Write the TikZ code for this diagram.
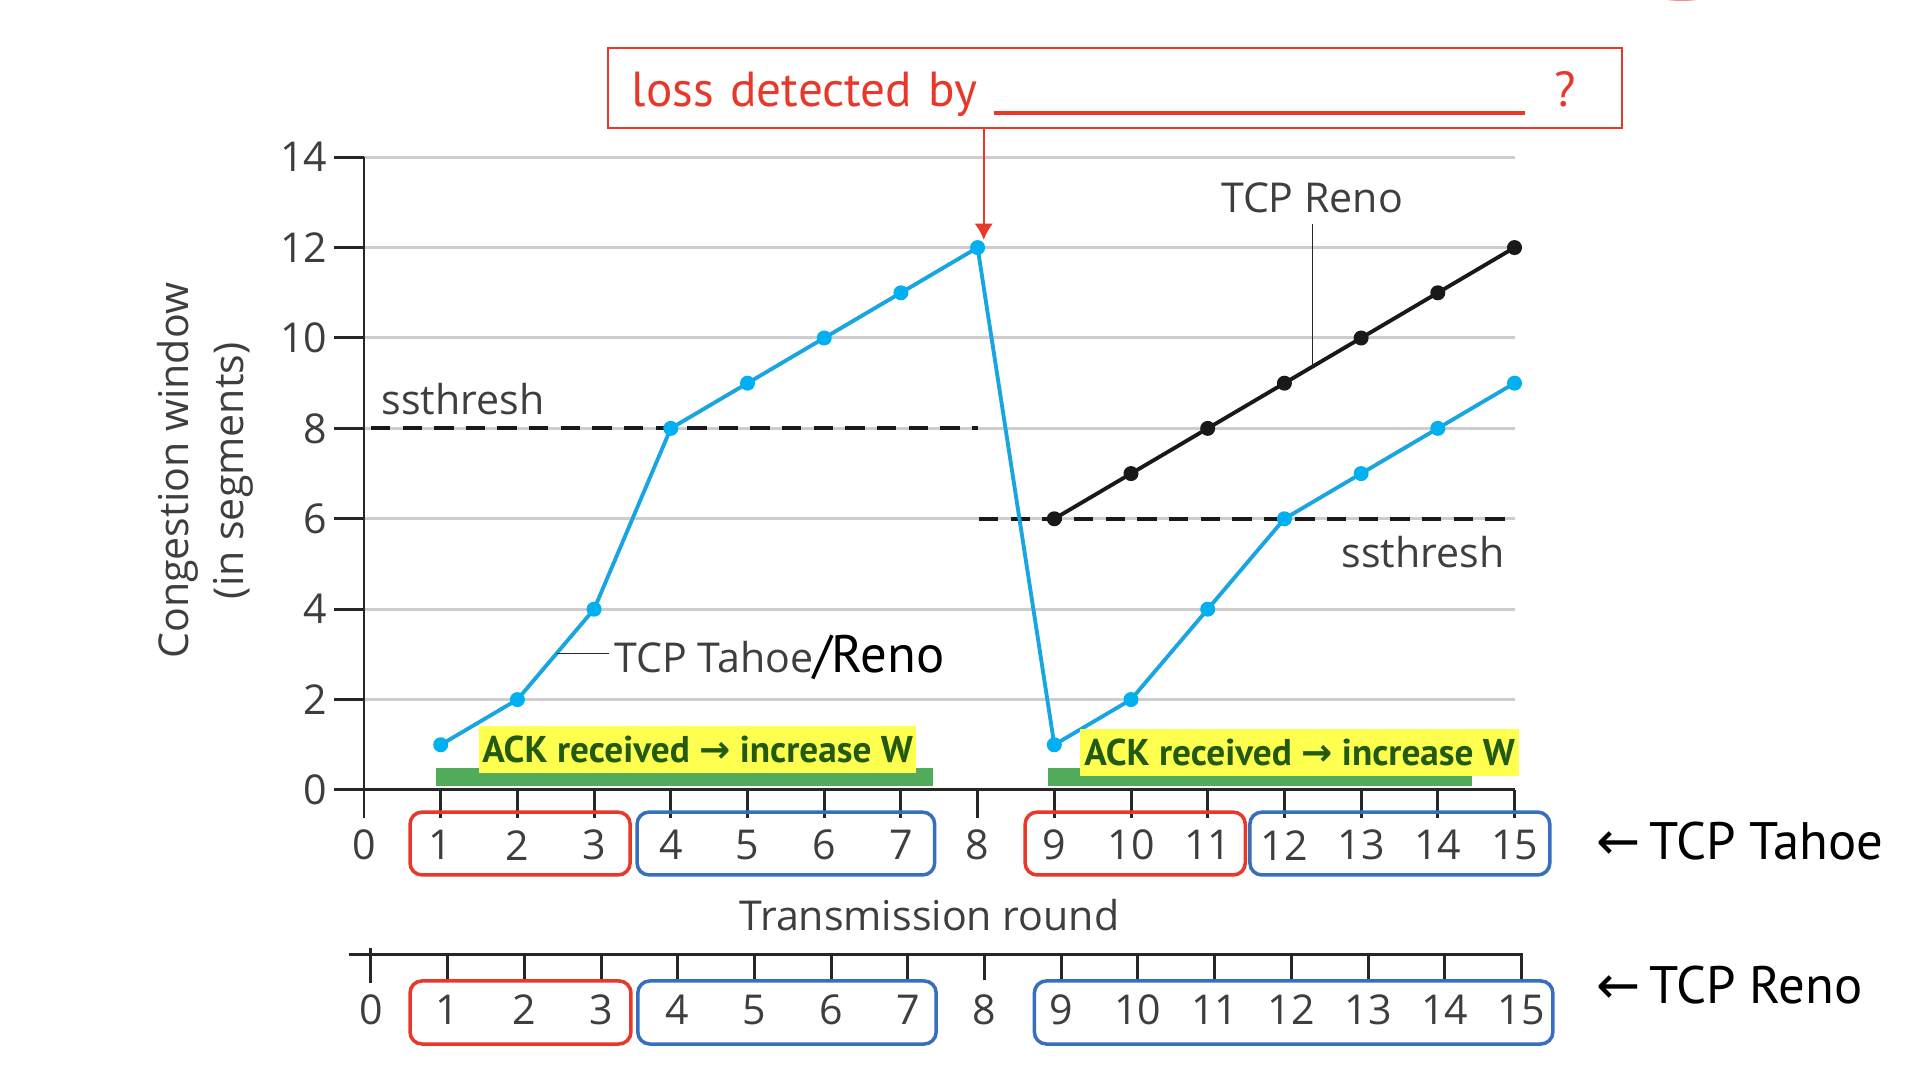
\documentclass[tikz,border=0pt]{standalone}
\usepackage{fontspec}
\setmainfont{Open Sans}
\newfontfamily\slidefont{PT Sans}
\newfontfamily\arrowfont{DejaVu Sans}
\usepackage{tikz}
\usetikzlibrary{calc}
\usetikzlibrary{arrows.meta}

\definecolor{tahoeblue}{RGB}{25,165,225}
\definecolor{dotblue}{RGB}{0,176,240}
\definecolor{gridgray}{RGB}{205,205,205}
\definecolor{lossred}{RGB}{232,56,42}
\definecolor{boxblue}{RGB}{55,110,190}
\definecolor{ackyellow}{RGB}{255,255,80}
\definecolor{ackgreen}{RGB}{80,172,90}
\definecolor{acktext}{RGB}{35,90,18}
\definecolor{plottext}{RGB}{62,62,62}

\begin{document}
\begin{tikzpicture}[
    gridline/.style={gridgray, line width=0.85pt},
    axisline/.style={black!85, line width=0.85pt},
    numlbl/.style={inner sep=0pt, text=plottext, font=\fontsize{11.7}{14}\selectfont},
    plotlbl/.style={inner sep=0pt, text=plottext, font=\fontsize{11.7}{14}\selectfont},
    ssline/.style={black!90, line width=1.1pt, dash pattern=on 5.5pt off 3.5pt},
    tahoeline/.style={tahoeblue, line width=1.1pt},
    renoline/.style={black!90, line width=1.1pt},
    redbox/.style={lossred, line width=1pt, rounded corners=0.12cm},
    bluebox/.style={boxblue, line width=1pt, rounded corners=0.12cm},
    ackbox/.style={fill=ackyellow, inner sep=0pt, minimum height=0.47cm, text=acktext,
      font=\slidefont\bfseries\fontsize{10.6}{12}\selectfont},
    ackbar/.style={fill=ackgreen},
    sidelbl/.style={inner sep=0pt, anchor=west, font=\slidefont\fontsize{15}{18}\selectfont},
    leader/.style={black!85, line width=0.3pt},
    lossbox/.style={draw=lossred, line width=0.6pt, text=lossred, text width=9.66cm,
      align=left, inner xsep=0.24cm, minimum height=0.8cm,
      font=\slidefont\fontsize{14}{16}\selectfont},
    lossarrow/.style={lossred, line width=0.6pt, -{Latex[length=4.6pt,width=5.2pt]}},
  ]
  \useasboundingbox (0,0) rectangle (19.2,10.92);
  \fill[lossred!55] (16.82,10.98) ellipse (0.3 and 0.07);

  \begin{scope}[shift={(3.64,3.02)},x=0.767cm,y=0.452cm]
    % grid and axes
    \foreach \v in {2,4,...,14}
      \draw[gridline] (0,\v) -- (15,\v);
    \fill[ackbar] (0.94,0.09) rectangle (7.42,0.49);
    \fill[ackbar] (8.92,0.09) rectangle (14.45,0.49);
    \foreach \v in {0,2,...,14} {
      \draw[axisline] (-0.39,\v) -- (0,\v);
      \node[numlbl, anchor=east] (y\v) at (-0.47,\v) {\v};
    }
    \draw[axisline] (0,14) -- (0,-0.62);
    \draw[axisline] (0,0) -- (15,0);
    \foreach \r in {1,...,15}
      \draw[axisline] (\r,0) -- (\r,-0.62);
    \foreach \r in {0,...,15}
      \node[numlbl] (t\r) at (\r,-1.22) {\r};
    \node[plotlbl, anchor=base] (xlabel) at (7.37,-3.1) {Transmission round};
    \node[plotlbl, rotate=90, align=center, font=\fontsize{11.7}{15.6}\selectfont]
      (ylabel) at (-2.07,7.06) {Congestion window\\(in segments)};

    % ssthresh
    \draw[ssline] (0.09,8) -- (8,8);
    \draw[ssline] (8.02,6) -- (15,6);
    \node[plotlbl, anchor=base west] (ss1) at (0.22,8.3) {ssthresh};
    \node[plotlbl, anchor=base east] (ss2) at (14.88,4.93) {ssthresh};

    % window curves
    \draw[renoline] plot coordinates {(9,6) (10,7) (11,8) (12,9) (13,10) (14,11) (15,12)};
    \foreach \r/\w in {9/6,10/7,11/8,12/9,13/10,14/11,15/12}
      \fill[black!90] (\r,\w) circle (0.075cm);
    \draw[tahoeline] plot coordinates {(1,1) (2,2) (3,4) (4,8) (5,9) (6,10) (7,11) (8,12)
      (9,1) (10,2) (11,4) (12,6) (13,7) (14,8) (15,9)};
    \foreach \r/\w in {1/1,2/2,3/4,4/8,5/9,6/10,7/11,8/12,9/1,10/2,11/4,12/6,13/7,14/8,15/9}
      \fill[dotblue] (\r,\w) circle (0.075cm);

    % labels on the curves
    \coordinate (renohit) at (12.36,9.36);
    \coordinate (tahoehit) at (2.515,3.03);
    \node[plotlbl, anchor=south, inner sep=0.1cm] (renolbl) at (12.36,12.52) {TCP Reno};
    \draw[leader] (renolbl) -- (renohit);
    \node[plotlbl, anchor=base west, inner sep=0.05cm] (tahoelbl) at (3.19,2.61)
      {TCP Tahoe{\color{black}\slidefont\fontsize{15}{18}\selectfont/Reno}};
    \draw[leader] (tahoehit) -- (tahoehit -| tahoelbl.west);

    % ACK notes
    \node[ackbox, minimum width=4.37cm] (ack1) at (4.35,0.9) {ACK received {\arrowfont →} increase W};
    \node[ackbox, minimum width=4.39cm] (ack2) at (12.2,0.84) {ACK received {\arrowfont →} increase W};

    % loss note
    \node[lossbox] (loss) at (9.79,15.53)
      {\raisebox{-0.06cm}[\height][\depth]{loss detected by\hspace{0.16cm}\rule[-0.08cm]{5.31cm}{0.04cm}\hspace{0.3cm}?}};
    \coordinate (losstip) at (8.08,12.17);
    \draw[lossarrow] (losstip |- loss.south) -- (losstip);

    % Tahoe rounds
    \draw[redbox] (0.6,-0.49) rectangle (3.47,-1.88);
    \draw[bluebox] (3.56,-0.49) rectangle (7.44,-1.88);
    \draw[redbox] (8.62,-0.49) rectangle (11.49,-1.88);
    \draw[bluebox] (11.55,-0.49) rectangle (15.46,-1.88);
    \node[sidelbl] (tahoeside) at (16.06,-1.13) {{\arrowfont ←}\,TCP Tahoe};

    % Reno rounds
    \begin{scope}[shift={(0.09,-3.65)}]
      \draw[axisline] (-0.29,0) -- (15.02,0);
      \draw[axisline] (0,0.15) -- (0,-0.62);
      \foreach \r in {1,...,15}
        \draw[axisline] (\r,0) -- (\r,-0.55);
      \foreach \r in {0,...,15}
        \node[numlbl] (r\r) at (\r,-1.22) {\r};
      \draw[redbox] (0.51,-0.575) rectangle (3.39,-1.97);
      \draw[bluebox] (3.48,-0.575) rectangle (7.37,-1.97);
      \draw[bluebox] (8.65,-0.575) rectangle (15.41,-1.97);
    \end{scope}
    \node[sidelbl] (renoside) at (16.06,-4.31) {{\arrowfont ←}\,TCP Reno};
  \end{scope}
\end{tikzpicture}
\end{document}
